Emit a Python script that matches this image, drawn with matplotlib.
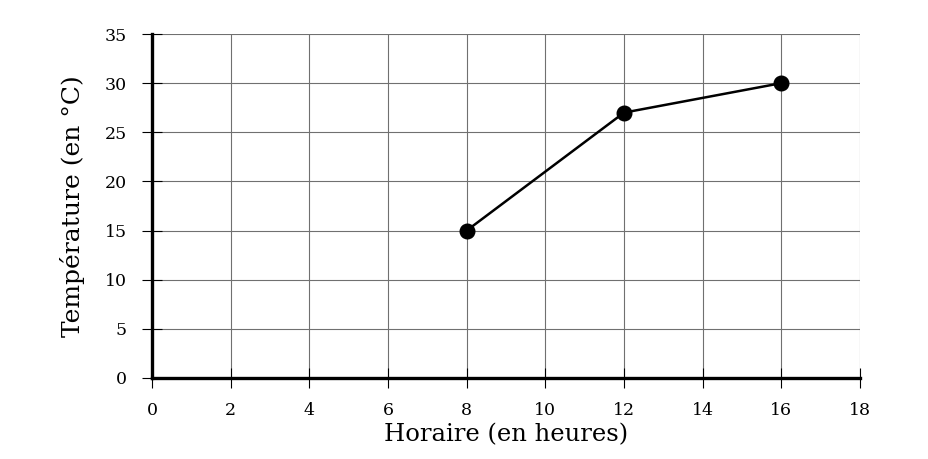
import matplotlib
matplotlib.use("Agg")
import matplotlib.pyplot as plt

# données
heures = [8, 12, 16]
temperatures = [15, 27, 30]
xticks = list(range(0, 19, 2))
yticks = list(range(0, 36, 5))

plt.rcParams['font.family'] = ['DejaVu Serif']

fig = plt.figure(figsize=(9.29, 4.59), dpi=100)
ax = fig.add_axes([152/929, 81/459, 708/929, 344/459])

ax.plot(heures, temperatures, color='black', lw=1.8, marker='o',
        markersize=10.5, zorder=5, clip_on=False)

ax.set_xlim(0, 18)
ax.set_ylim(0, 35)
ax.set_xticks(xticks)
ax.set_yticks(yticks)
ax.grid(True, color='#707070', lw=0.8)
ax.set_axisbelow(True)

for s in ['top', 'right']:
    ax.spines[s].set_visible(False)
for s in ['left', 'bottom']:
    ax.spines[s].set_linewidth(2.4)
    ax.spines[s].set_zorder(4)

ax.tick_params(direction='inout', length=14, width=0.8, labelsize=12.5,
               color='black')
ax.tick_params(axis='x', pad=10)
ax.tick_params(axis='y', pad=11)

ax.set_xlabel('Horaire (en heures)', fontsize=17.5, labelpad=3)
ax.set_ylabel('Température (en °C)', fontsize=18, labelpad=14)

fig.savefig('out.png', dpi=100)
